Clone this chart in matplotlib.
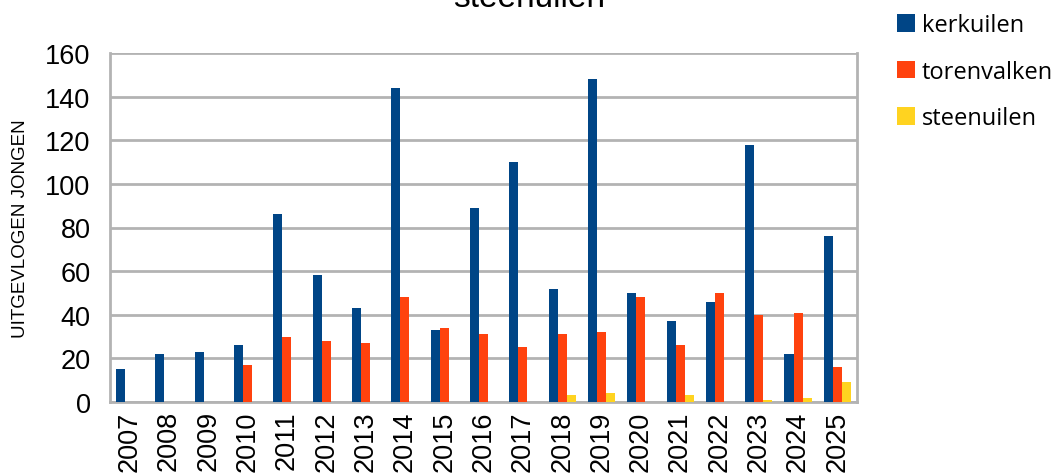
import numpy as np
import matplotlib.pyplot as plt

years = [str(y) for y in range(2007, 2026)]
kerkuilen = [15, 22, 23, 26, 86, 58, 43, 144, 33, 89, 110, 52, 148, 50, 37, 46, 118, 22, 76]
torenvalken = [0, 0, 0, 17, 30, 28, 27, 48, 34, 31, 25, 31, 32, 48, 26, 50, 40, 41, 16]
steenuilen = [0, 0, 0, 0, 0, 0, 0, 0, 0, 0, 0, 3, 4, 0, 3, 0, 1, 2, 9]

plt.rcParams['font.family'] = ['Liberation Sans', 'DejaVu Sans']

fig = plt.figure(figsize=(10.56, 4.77), dpi=100)
ax = fig.add_axes([110/1056, 1 - 403/477, 747/1056, 349/477])

x = np.arange(len(years))
w = 0.23
ax.bar(x - w, kerkuilen, w, color='#004586', label='kerkuilen', zorder=3)
ax.bar(x, torenvalken, w, color='#FF420E', label='torenvalken', zorder=3)
ax.bar(x + w, steenuilen, w, color='#FFD320', label='steenuilen', zorder=3)

ax.set_xlim(-0.5, len(years) - 0.5)
ax.set_ylim(0, 160)
ax.set_yticks(range(0, 161, 20))
ax.set_xticks(x)
ax.set_xticklabels(years, rotation=90, fontsize=19.5)
ax.tick_params(axis='y', labelsize=19.5, length=0, pad=14)
ax.tick_params(axis='x', length=0, pad=6)
ax.grid(axis='y', color='#b3b3b3', linewidth=2, zorder=0)
ax.spines['top'].set_visible(False)
for s in ['left', 'bottom', 'right']:
    ax.spines[s].set_color('#b3b3b3')
    ax.spines[s].set_linewidth(2)
ax.set_ylabel('UITGEVLOGEN JONGEN', fontsize=13.5, labelpad=12)

fig.text(529/1056, 1 - 14/477, 'steenuilen', ha='center', va='bottom', fontsize=24)

fig.legend(loc='upper left', bbox_to_anchor=(876/1056, 1 + 7/477), frameon=False,
           handlelength=0.75, handleheight=0.75, handletextpad=0.3,
           labelspacing=0.95, prop={'family': ['Open Sans', 'DejaVu Sans'], 'size': 17})

fig.savefig('out.png', dpi=100)
